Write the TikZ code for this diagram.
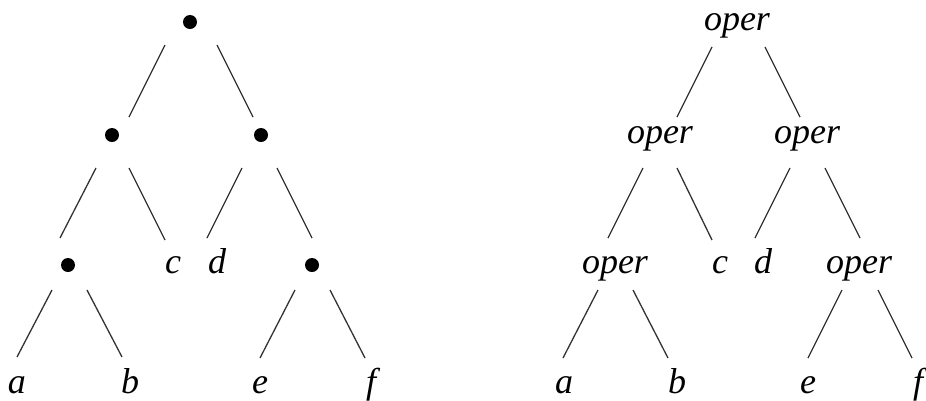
\documentclass[tikz,border=0pt]{standalone}
\usepackage{fontspec}
\setmainfont{Liberation Serif}
\tikzset{
  dotnode/.style={circle,fill=black,inner sep=0pt,minimum size=14pt},
  lbl/.style={anchor=base,inner sep=0pt,font=\fontsize{36}{40}\selectfont\itshape},
  edge/.style={draw=black!80,line width=1.3pt}
}
\newcommand{\tedge}[4]{\draw[edge] ([shift={(#2)}]#1) -- ([shift={(#4)}]#3);}
\begin{document}
\begin{tikzpicture}[x=1pt,y=-1pt]
\useasboundingbox (0,0) rectangle (926,400);
% left tree
\node[dotnode] (R) at (190,22) {};
\node[dotnode] (A) at (112,135) {};
\node[dotnode] (B) at (261,135) {};
\node[dotnode] (C) at (68,265) {};
\node[dotnode] (D) at (312,265) {};
\node[lbl] (c) at (173,273) {c};
\node[lbl] (d) at (217,273) {d};
\node[lbl] (a) at (17,393) {a};
\node[lbl] (b) at (130,393) {b};
\node[lbl] (e) at (260,393) {e};
\node[lbl] (f) at (371,393) {f};
\tedge{R.center}{-25,23}{A.center}{17,-18}
\tedge{R.center}{27,23}{B.center}{-8,-18}
\tedge{A.center}{-16,33}{C.center}{-8,-27}
\tedge{A.center}{17,33}{c.base}{-8,-33}
\tedge{B.center}{-19,33}{d.base}{-10,-35}
\tedge{B.center}{16,33}{D.center}{0,-27}
\tedge{C.center}{-16,25}{a.base}{0,-36}
\tedge{C.center}{19,25}{b.base}{-8,-36}
\tedge{D.center}{-17,25}{e.base}{0,-35}
\tedge{D.center}{18,25}{f.base}{-6,-35}
% right tree
\node[lbl] (R2) at (737,30) {oper};
\node[lbl] (A2) at (660,143) {oper};
\node[lbl] (B2) at (807,143) {oper};
\node[lbl] (C2) at (615,273) {oper};
\node[lbl] (c2) at (720,273) {c};
\node[lbl] (d2) at (763,273) {d};
\node[lbl] (D2) at (859,273) {oper};
\node[lbl] (a2) at (564,393) {a};
\node[lbl] (b2) at (677,393) {b};
\node[lbl] (e2) at (808,393) {e};
\node[lbl] (f2) at (918,393) {f};
\tedge{R2.base}{-25,17}{A2.base}{17,-26}
\tedge{R2.base}{28,17}{B2.base}{-7,-26}
\tedge{A2.base}{-17,25}{C2.base}{-7,-35}
\tedge{A2.base}{17,25}{c2.base}{-8,-33}
\tedge{B2.base}{-17,25}{d2.base}{-8,-35}
\tedge{B2.base}{18,25}{D2.base}{1,-35}
\tedge{C2.base}{-17,17}{a2.base}{-1,-35}
\tedge{C2.base}{18,17}{b2.base}{-9,-35}
\tedge{D2.base}{-17,17}{e2.base}{0,-35}
\tedge{D2.base}{19,17}{f2.base}{-6,-35}
\end{tikzpicture}
\end{document}
